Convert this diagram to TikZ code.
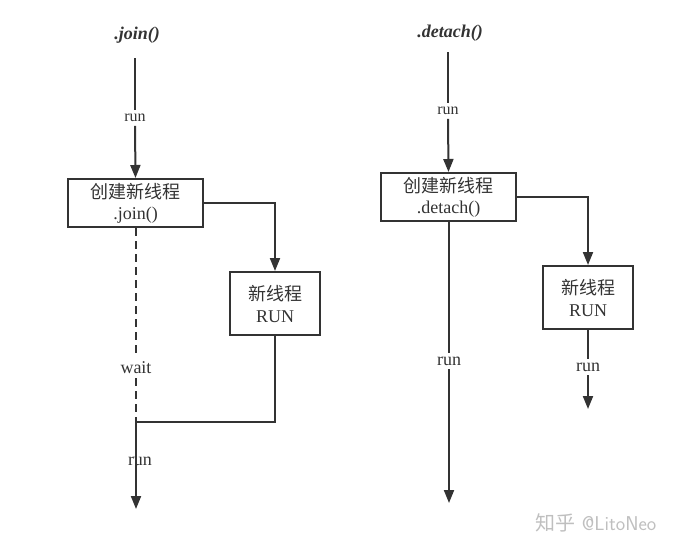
\documentclass[tikz,border=0pt]{standalone}
\usepackage{fontspec}
\setmainfont{Liberation Serif}
\newfontfamily\cjk{Noto Sans CJK SC}
\usetikzlibrary{arrows.meta}
\definecolor{ink}{HTML}{333333}
\tikzset{
  x=1pt,y=-1pt,
  flow/.style={draw=ink,line width=2pt},
  arr/.style={flow,-{Triangle[length=13pt,width=10pt]}},
  boxnode/.style={draw=ink,line width=2pt,minimum width=#1,align=center,inner sep=0pt,text=ink,font=\fontsize{18}{22}\selectfont},
  lbl/.style={text=ink,inner sep=1pt,outer sep=3pt,font=\fontsize{16}{18}\selectfont},
  lblbig/.style={text=ink,inner sep=1pt,outer sep=3pt,font=\fontsize{18}{20}\selectfont},
  ttl/.style={text=ink,font=\fontsize{18}{20}\selectfont\bfseries\itshape},
  dsh/.style={flow,dash pattern=on 8pt off 5pt},
}
\begin{document}
\begin{tikzpicture}
\useasboundingbox (0,0) rectangle (684,551);
% ---------- join side ----------
\node[ttl] (t1) at (137,35) {.join()};
\coordinate (s1) at (135,58);
\node[lbl] (r1) at (135,118) {run};
\node[boxnode=135pt,minimum height=48pt] (b1) at (135.5,203) {{\cjk 创建新线程}\\[-1pt].join()};
\node[boxnode=90pt,minimum height=63pt] (b2) at (275,303.5) {{\cjk 新线程}\\RUN};
\node[lblbig] (w1) at (136,368) {wait};
\coordinate (j1) at (136,422);
\node[lblbig] (r2) at (140,461) {run};
\coordinate (e1) at (136,509);
\draw[flow] (s1) -- (r1.north);
\draw[arr] (r1.south) -- (b1.north);
\draw[arr] (b1.east) -| (b2.north);
\draw[dsh] (b1.south) -- (w1.north -| b1.south);
\draw[dsh] (w1.south) -- (j1);
\draw[flow] (b2.south) |- (j1);
\draw[arr] (j1) -- (e1);
% ---------- detach side ----------
\node[ttl] (t2) at (450,33) {.detach()};
\coordinate (s2) at (448,52);
\node[lbl] (r3) at (448,111) {run};
\node[boxnode=135pt,minimum height=48pt] (b3) at (448.5,197) {{\cjk 创建新线程}\\[-1pt].detach()};
\node[boxnode=90pt,minimum height=63pt] (b4) at (588,297.5) {{\cjk 新线程}\\RUN};
\node[lblbig] (r4) at (449,361) {run};
\coordinate (e3) at (449,503);
\node[lblbig] (r5) at (588,367) {run};
\coordinate (e4) at (588,409);
\draw[flow] (s2) -- (r3.north);
\draw[arr] (r3.south) -- (b3.north);
\draw[arr] (b3.east) -| (b4.north);
\draw[flow] (b3.south -| r4) -- (r4.north);
\draw[arr] (r4.south) -- (e3);
\draw[flow] (b4.south) -- (r5.north);
\draw[arr] (r5.south) -- (e4);
% ---------- watermark ----------
\node[text=black!25,font=\fontsize{20}{22}\selectfont\sffamily] (wm) at (596,523) {{\cjk 知乎} @LitoNeo};
\end{tikzpicture}
\end{document}
